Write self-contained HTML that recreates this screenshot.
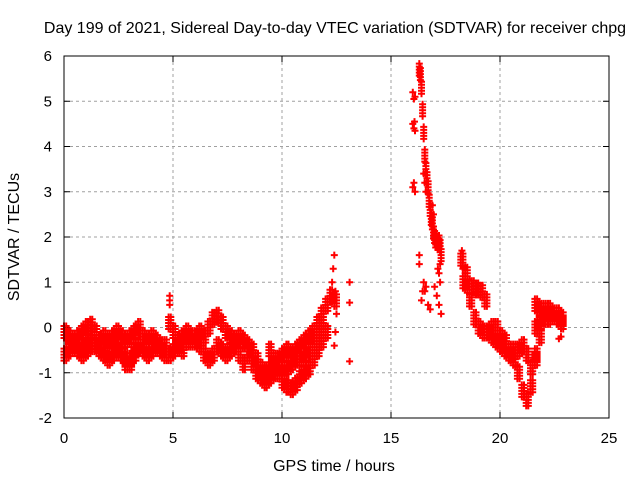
<!DOCTYPE html>
<html><head><meta charset="utf-8"><style>
body{margin:0;background:#fff;}
text{font-family:"Liberation Sans",sans-serif;font-size:16px;fill:#000;}
.tk{font-size:15px;}
</style></head><body>
<svg id="c" width="640" height="480" xmlns="http://www.w3.org/2000/svg">
<rect width="640" height="480" fill="#fff"/>
<text x="335" y="33" text-anchor="middle">Day 199 of 2021, Sidereal Day-to-day VTEC variation (SDTVAR) for receiver chpg</text>
<text x="334" y="471" text-anchor="middle">GPS time / hours</text>
<text transform="translate(19,237) rotate(-90)" text-anchor="middle">SDTVAR / TECUs</text>
<g id="grid"></g>
<g id="ticks"></g>
<g id="marks"></g>
<rect x="64" y="56" width="545" height="362" fill="none" stroke="#000" stroke-width="1"/>
</svg>
<script>
const xTicks=[0,5,10,15,20,25];
const yTicks=[-2,-1,0,1,2,3,4,5,6];
// tracks: start time, step (hours), values (TECU)
const t1Start=0, t1Vals=[-0.1,-0.2,-0.3,-0.2,-0.1,0.0,0.05,-0.1,-0.3,-0.2,-0.3,-0.2,-0.1,-0.2,-0.3,-0.2,-0.1,0.0,-0.2,-0.3,-0.2,-0.3,-0.4,-0.4];
const t2Start=0, t2Vals=[-0.6,-0.5,-0.4,-0.5,-0.6,-0.5,-0.4,-0.4,-0.5,-0.6,-0.7,-0.6,-0.5,-0.6,-0.8,-0.7,-0.5,-0.4,-0.5,-0.6,-0.5,-0.4,-0.5,-0.6];
const t3Start=0.2, t3Vals=[-0.3,-0.4,-0.5,-0.4,-0.3,-0.35,-0.4,-0.5,-0.45,-0.4,-0.3,-0.4,-0.6,-0.7,-0.8,-0.6];
const t4Start=4.8, t4Vals=[0.1,-0.1,-0.3,-0.2,-0.1,-0.3,-0.2,-0.1,-0.2,0.0,0.2,0.25,0.1,-0.1,-0.2,-0.3,-0.2,-0.3];
const t5Start=4.8, t5Vals=[-0.6,-0.5,-0.4,-0.5,-0.3,-0.2,-0.3,-0.4,-0.6,-0.7,-0.6,-0.4,-0.5,-0.6,-0.5,-0.4,-0.6,-0.8];
const t6Start=8.4, t6Vals=[-0.4,-0.5,-0.7,-0.9,-1.0,-0.9,-0.8,-0.7,-0.6,-0.5,-0.6,-0.5,-0.4,-0.3,-0.2,-0.1,0.1,0.3,0.5,0.7,0.6];
const t7Start=8.4, t7Vals=[-0.6,-0.8,-1.0,-1.1,-1.2,-1.1,-1.0,-1.0,-1.2,-1.3,-1.35,-1.25,-1.1,-1.0,-0.9,-0.7,-0.5,-0.3,-0.1];
const t8Start=9.4, t8Vals=[-0.5,-0.7,-0.9,-1.0,-0.9,-0.8,-0.7,-0.7,-0.6,-0.5,-0.3,-0.1,0.1];
const t11Start=18.2, t11Vals=[1.5,1.2,0.6,0.2,0.0,-0.1,-0.1,0.0,0.0,-0.2,-0.3,-0.5,-0.7,-1.0,-1.4,-1.6,-1.3,-0.7,-0.2,0.4];
const t12Start=18.3, t12Vals=[1.0,0.9,0.9,0.85,0.8,0.6];
const t13Start=19.6, t13Vals=[-0.2,-0.3,-0.4,-0.5,-0.6,-0.5,-0.5,-0.4,-0.6,-0.9,-0.6,-0.2];
const t14Start=21.6, t14Vals=[0.5,0.4,0.3,0.2,0.3,0.2,0.1];
const t15Start=21.6, t15Vals=[0.0,0.1,0.2,0.4,0.3,0.3,0.2];
const streakTimes=[16.3,16.35,16.4,16.45,16.5,16.55,16.6,16.65,16.7,16.75,16.8,16.85,16.9,16.95,17.0,17.05,17.1,17.15,17.2,17.25,17.3];
const streakVals=[5.7,5.6,5.3,4.8,4.3,3.8,3.5,3.3,3.1,2.8,2.6,2.4,2.3,2.1,2.0,1.9,1.9,1.85,1.9,1.8,1.6];
const scatterTimes=[4.85,4.85,4.85,12.3,12.35,12.4,12.45,12.5,12.45,12.4,13.1,13.1,13.1,16.0,16.05,16.1,16.0,16.05,16.1,16.08,16.0,16.05,16.1,16.3,16.3,16.4,16.45,16.5,16.55,16.6,16.7,16.8,17.0,17.1,17.2,17.3,17.25,16.5,16.55,16.6,17.15,17.2,17.25,16.9,16.95,22.7,22.8,18.25,18.3];
const scatterVals=[0.5,0.7,0.6,1.0,1.3,1.6,0.8,0.3,-0.1,-0.4,1.0,0.55,-0.75,5.2,5.05,5.1,4.5,4.4,4.35,4.55,3.1,3.2,3.0,1.6,1.4,0.6,0.8,1.0,0.8,0.9,0.5,0.4,0.9,0.7,0.5,0.3,1.0,3.4,3.2,3.0,1.3,1.2,1.4,2.7,2.5,-0.25,-0.2,1.7,1.3];
const STEP=0.2;
const NS="http://www.w3.org/2000/svg";
const X=t=>64+t*(545/25);
const Y=v=>418-(v+2)*(362/8);
const grid=document.getElementById('grid'),ticks=document.getElementById('ticks'),marks=document.getElementById('marks');
function mk(tag,attrs,parent){const e=document.createElementNS(NS,tag);for(const k in attrs)e.setAttribute(k,attrs[k]);parent.appendChild(e);return e;}
xTicks.forEach(t=>{
  if(t>0&&t<25){const g=mk('line',{x1:X(t),x2:X(t),y1:56,y2:418,stroke:'#a0a0a0','stroke-dasharray':'3,3'},grid);
  
  }
  const tk=mk('path',{d:`M${X(t)},418v-6M${X(t)},56v6`,stroke:'#000'},ticks);
  
  
  const l=mk('text',{x:X(t),y:443,'text-anchor':'middle','class':'tk'},ticks);l.textContent=t;
  
  
});
yTicks.forEach(v=>{
  if(v>-2&&v<6){const g=mk('line',{x1:64,x2:609,y1:Y(v),y2:Y(v),stroke:'#a0a0a0','stroke-dasharray':'3,3'},grid);
  
  }
  const tk=mk('path',{d:`M64,${Y(v)}h6M609,${Y(v)}h-6`,stroke:'#000'},ticks);
  
  
  const l=mk('text',{x:52,y:Y(v)+5,'text-anchor':'end','class':'tk'},ticks);l.textContent=v;
  
  
});
let d='';
function plus(t,v,band){const x=X(t),y=Y(v);const offs=band?[-6,-3,0,3,6]:[0];offs.forEach(o=>{d+=`M${(x-3.5).toFixed(1)},${(y+o).toFixed(1)}h7M${x.toFixed(1)},${(y+o-3.5).toFixed(1)}v7`;});}
const tracks=[[t1Start,t1Vals],[t2Start,t2Vals],[t3Start,t3Vals],[t4Start,t4Vals],[t5Start,t5Vals],[t6Start,t6Vals],[t7Start,t7Vals],[t8Start,t8Vals],[t11Start,t11Vals],[t12Start,t12Vals],[t13Start,t13Vals],[t14Start,t14Vals],[t15Start,t15Vals]];
tracks.forEach(([s,vals])=>vals.forEach((v,i)=>{plus(s+i*STEP,v,true);plus(s+i*STEP+STEP/2,v,true);}));
streakTimes.forEach((t,i)=>plus(t,streakVals[i],true));
scatterTimes.forEach((t,i)=>plus(t,scatterVals[i],false));
const p=mk('path',{d:d,stroke:'#ff0000','stroke-width':'2',fill:'none'},marks);


</script>
</body></html>
